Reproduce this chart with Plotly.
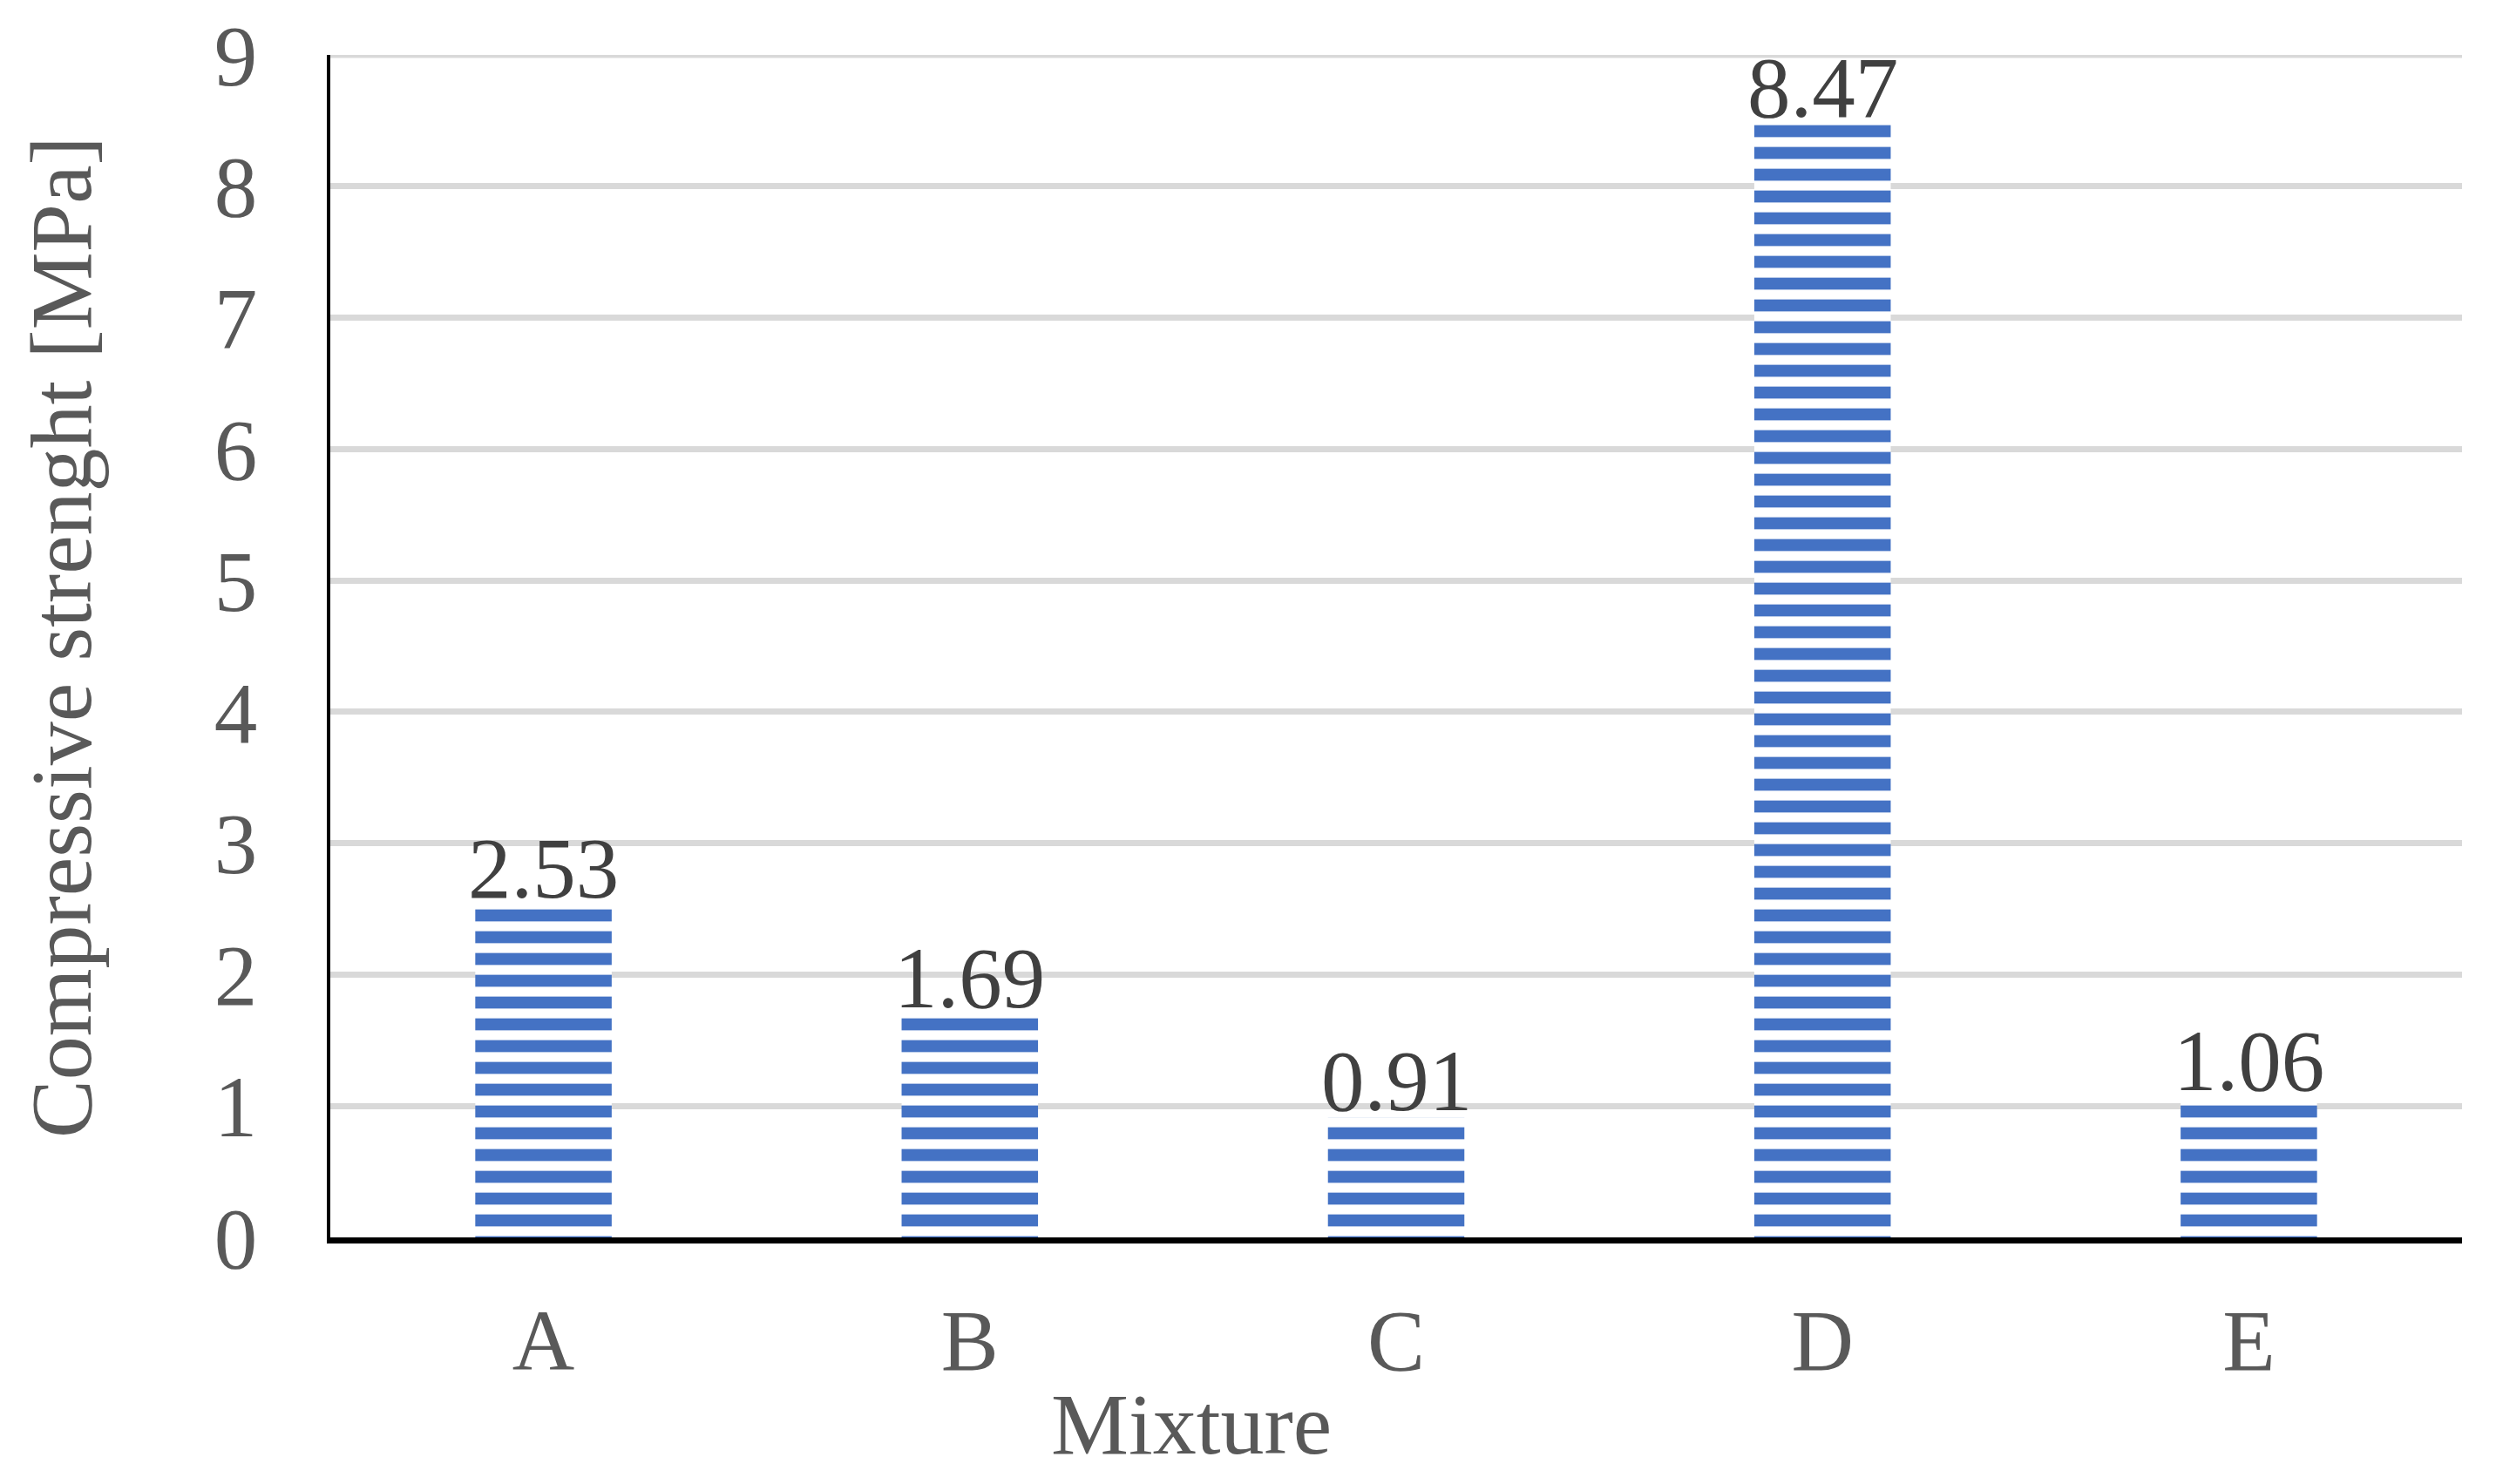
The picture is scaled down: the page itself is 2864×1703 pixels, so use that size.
import plotly.graph_objects as go

categories = ["A", "B", "C", "D", "E"]
strength = [2.53, 1.69, 0.91, 8.47, 1.06]
labels = ["2.53", "1.69", "0.91", "8.47", "1.06"]
y_ticks = [0, 1, 2, 3, 4, 5, 6, 7, 8, 9]

FONT = "Liberation Serif, Times New Roman, serif"
W, H = 2864, 1703
OFF = 8  # default page body margin
L, R, T, B = 379 - OFF, 39 + OFF, 63 - OFF, 283 + OFF
PW, PH = W - L - R, H - T - B

fig = go.Figure()
fig.add_trace(go.Bar(
    x=categories,
    y=strength,
    cliponaxis=False,
    marker=dict(
        color="white",
        line=dict(width=0),
        pattern=dict(shape="-", fgcolor="#4472C4", bgcolor="white",
                     size=25, solidity=0.55, fillmode="replace"),
    ),
    width=0.32,
))

# data labels just above each bar
for cat, val, lab in zip(categories, strength, labels):
    fig.add_annotation(
        x=cat, y=val, text=lab, xref="x", yref="y",
        xanchor="center", yanchor="bottom", yshift=-14, showarrow=False,
        font=dict(family=FONT, size=99, color="#404040"),
    )

fig.update_layout(
    width=W, height=H,
    margin=dict(l=L, r=R, t=T, b=B, autoexpand=False),
    paper_bgcolor="white", plot_bgcolor="white",
    showlegend=False,
    font=dict(family=FONT, color="#595959", size=99),
)

fig.update_xaxes(
    automargin=False,
    showline=True, linecolor="black", linewidth=7,
    showgrid=False, ticks="",
    tickfont=dict(family=FONT, size=99, color="#595959"),
    ticklabelstandoff=26,
)
fig.update_yaxes(
    automargin=False,
    range=[0, 9], tickvals=y_ticks,
    showline=True, linecolor="black", linewidth=4,
    showgrid=True, gridcolor="#D9D9D9", gridwidth=7,
    zeroline=False, ticks="",
    tickfont=dict(family=FONT, size=99, color="#595959"),
    ticklabelstandoff=60,
)

# top gridline at the axis maximum
fig.add_shape(type="line", xref="paper", yref="y", x0=0, x1=1,
              y0=y_ticks[-1], y1=y_ticks[-1], layer="below",
              line=dict(color="#D9D9D9", width=7))

fig.add_annotation(
    text="Mixture", xref="paper", yref="paper",
    x=(1367 - OFF - L) / PW, y=(H - B - (1634 - OFF)) / PH,
    xanchor="center", yanchor="middle", showarrow=False,
    font=dict(family=FONT, size=100, color="#595959"),
)
fig.add_annotation(
    text="Compressive strenght [MPa]", xref="paper", yref="paper",
    x=(70 - OFF - L) / PW, y=(H - B - (731 - OFF)) / PH,
    xanchor="center", yanchor="middle", textangle=-90, showarrow=False,
    font=dict(family=FONT, size=100, color="#595959"),
)

fig.write_html("out.html")
